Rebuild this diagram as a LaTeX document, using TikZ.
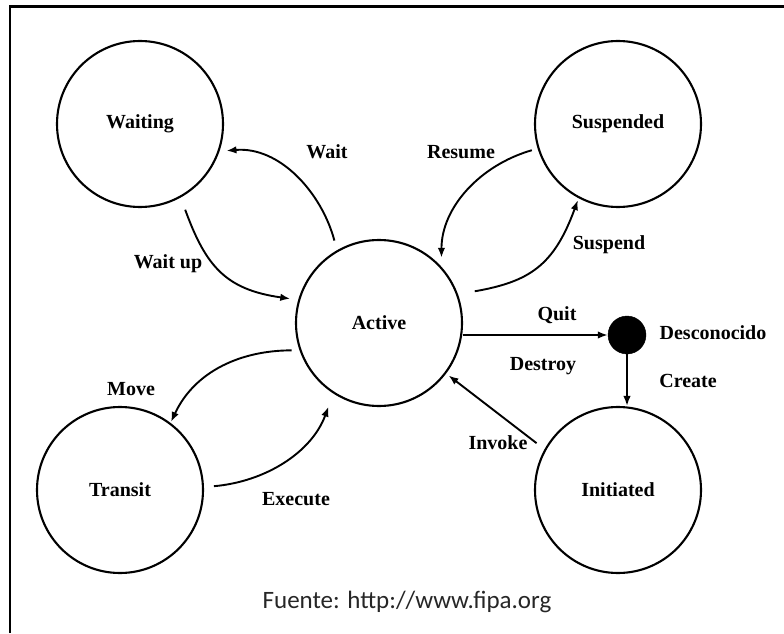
\documentclass[tikz,border=0pt]{standalone}
\usepackage{fontspec}
\setmainfont{Liberation Serif}
\newfontfamily\srcfont{Carlito}
\usetikzlibrary{arrows.meta}
\tikzset{state/.style={circle,draw,line width=2.1pt,minimum size=166pt,inner sep=0pt,font=\fontsize{20}{24}\selectfont\bfseries},sink/.style={circle,draw,fill=black,minimum size=38pt,inner sep=0pt},line/.style={line width=1.9pt,-{Latex[length=10pt,width=7.5pt]}},lbl/.style={font=\fontsize{20}{24}\selectfont\bfseries,inner sep=0pt,text height=1.5ex,text depth=.25ex}}

\begin{document}
\begin{tikzpicture}[x=1pt,y=1pt]
\useasboundingbox (0,0) rectangle (784,633);
\draw[line width=2.5pt] (10,0) -- (10,626.5) -- (784,626.5);
% states
\node[state] (waiting) at (140,509) {Waiting};
\node[state] (suspended) at (618,509) {Suspended};
\node[state] (active) at (379,310) {Active};
\node[state] (transit) at (120,143) {Transit};
\node[state] (initiated) at (618,143) {Initiated};
\node[sink] (unknown) at (627,298) {};
% transitions
\draw[line,shorten <=10pt,shorten >=7pt] (active.120) to[out=105,in=5] (waiting.-19);
\draw[line,shorten <=13pt,shorten >=8pt] (waiting.-61) to[out=-70,in=172,looseness=1.2] (active.164);
\draw[line,shorten <=6pt,shorten >=9pt] (suspended.197) to[out=196,in=90] (active.42);
\draw[line,shorten <=17pt,shorten >=2pt] (active.20) to[out=10,in=250,looseness=1.2] (suspended.-118);
\draw[line] (active.east |- unknown) -- (unknown);
\draw[line] (unknown) -- (unknown |- initiated.north);
\draw[line,shorten <=10pt,shorten >=3pt] (initiated.151) -- (active.-37);
\draw[line,shorten <=8pt,shorten >=1pt] (active.199) to[out=180,in=65] (transit.53);
\draw[line,shorten <=10pt,shorten >=14pt] (transit.2) to[out=5,in=250] (active.237);
% labels
\node[lbl] (l-wait) at (327,477) {Wait};
\node[lbl] (l-waitup) at (168,367) {Wait up};
\node[lbl] (l-resume) at (461,477) {Resume};
\node[lbl] (l-suspend) at (609,386) {Suspend};
\node[lbl] (l-quit) at (557,315) {Quit};
\node[lbl] (l-unknown) at (713,296) {Desconocido};
\node[lbl] (l-destroy) at (543,265) {Destroy};
\node[lbl] (l-create) at (688,248) {Create};
\node[lbl] (l-invoke) at (498,186) {Invoke};
\node[lbl] (l-move) at (131,240) {Move};
\node[lbl] (l-execute) at (296,130) {Execute};
\node[font=\srcfont\fontsize{25}{30}\selectfont,text=black!85] (source) at (407,31) {Fuente: http://www.fipa.org};
\end{tikzpicture}
\end{document}
